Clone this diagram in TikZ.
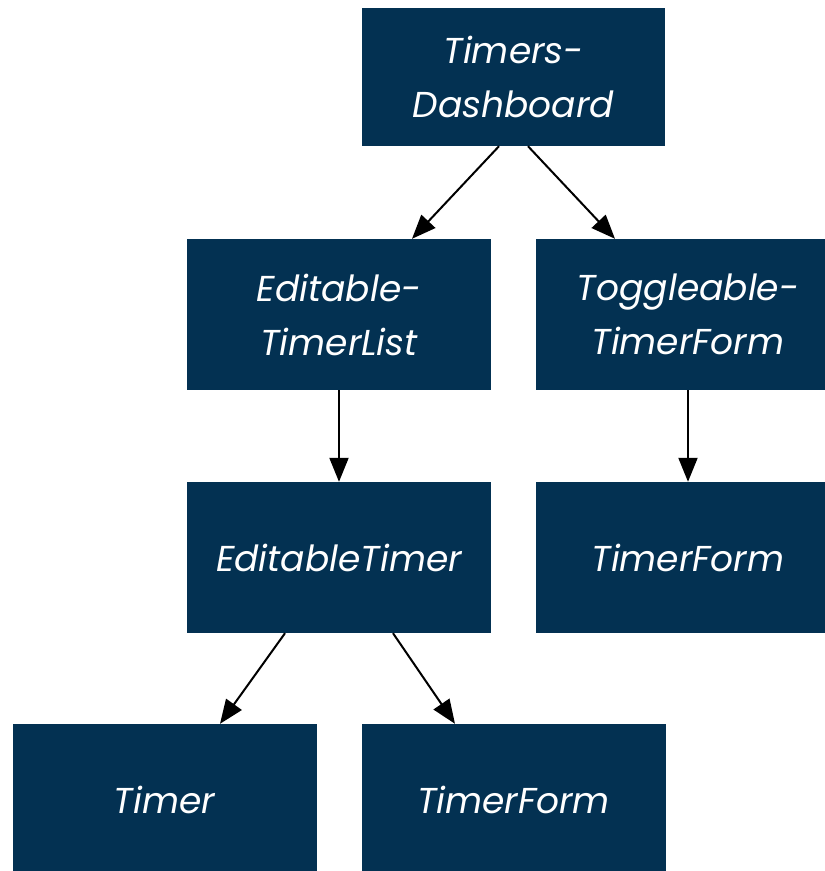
\documentclass[tikz,border=0pt]{standalone}
\usepackage{fontspec}
\setmainfont{Poppins}
\usetikzlibrary{arrows.meta}
\definecolor{navy}{HTML}{033152}
\tikzset{
  comp/.style={fill=navy, draw=none, text=white, minimum width=304pt, minimum height=151pt,
    inner sep=0pt, align=center, font=\fontsize{36}{54}\selectfont\itshape},
  link/.style={line width=2pt, -{Triangle[length=24pt,width=19pt]}}
}
\begin{document}
\begin{tikzpicture}[x=1pt,y=-1pt]
\useasboundingbox (0,0) rectangle (825,871);
\clip (0,0) rectangle (825,871);
\node[comp, minimum width=303pt, minimum height=138pt] (dash) at (513.5,77) {Timers-\\Dashboard};
\node[comp] (etl) at (339,314.5) {Editable-\\TimerList};
\node[comp] (ttf) at (688,314.5) {Toggleable-\\TimerForm};
\node[comp] (et) at (339,557.5) {EditableTimer};
\node[comp] (tf1) at (688,557.5) {TimerForm};
\node[comp] (tm) at (164.5,799.5) {Timer};
\node[comp] (tf2) at (513.5,799.5) {TimerForm};
\draw[link] ([xshift=-14.5pt]dash.south) -- ([xshift=73pt]etl.north);
\draw[link] ([xshift=14.5pt]dash.south) -- ([xshift=-73pt]ttf.north);
\draw[link] (etl.south) -- (et.north);
\draw[link] (ttf.south) -- (tf1.north);
\draw[link] ([xshift=-54pt]et.south) -- ([xshift=55.5pt]tm.north);
\draw[link] ([xshift=54pt]et.south) -- ([xshift=-58.5pt]tf2.north);
\end{tikzpicture}
\end{document}
